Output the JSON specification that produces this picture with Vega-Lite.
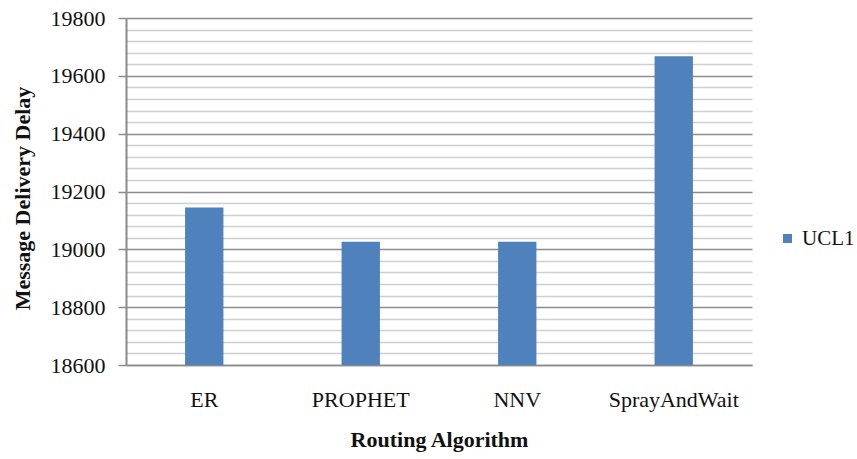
{
  "$schema": "https://vega.github.io/schema/vega-lite/v6.json",
  "width": 626,
  "height": 347,
  "autosize": {"type": "none"},
  "padding": {"left": 126, "top": 18, "right": 105, "bottom": 94},
  "background": "white",
  "config": {
    "view": {"stroke": null},
    "font": "Liberation Serif",
    "axis": {"labelFont": "Liberation Serif", "titleFont": "Liberation Serif", "labelColor": "#111", "titleColor": "#111"}
  },
  "data": {
    "values": [
      {"algo": "ER", "delay": 19145, "series": "UCL1"},
      {"algo": "PROPHET", "delay": 19026, "series": "UCL1"},
      {"algo": "NNV", "delay": 19026, "series": "UCL1"},
      {"algo": "SprayAndWait", "delay": 19668, "series": "UCL1"}
    ]
  },
  "mark": {"type": "bar", "clip": true},
  "encoding": {
    "x": {
      "field": "algo",
      "type": "nominal",
      "sort": null,
      "scale": {"paddingInner": 0.755, "paddingOuter": 0.3775},
      "axis": {
        "title": "Routing Algorithm",
        "labelAngle": 0,
        "ticks": false,
        "labelPadding": 24,
        "labelFontSize": 22,
        "titleFontSize": 22,
        "titleFontWeight": "bold",
        "titlePadding": 19,
        "domainColor": "#8a8a8a",
        "domainWidth": 1.5
      }
    },
    "y": {
      "field": "delay",
      "type": "quantitative",
      "scale": {"domain": [18600, 19800], "nice": false, "zero": false},
      "axis": {
        "title": "Message Delivery Delay",
        "format": "d",
        "values": [18600, 18640, 18680, 18720, 18760, 18800, 18840, 18880, 18920, 18960, 19000, 19040, 19080, 19120, 19160, 19200, 19240, 19280, 19320, 19360, 19400, 19440, 19480, 19520, 19560, 19600, 19640, 19680, 19720, 19760, 19800],
        "labelExpr": "datum.value % 200 === 0 ? datum.label : ''",
        "grid": true,
        "gridColor": {"condition": {"test": "datum.value % 200 === 0", "value": "#8c8c8c"}, "value": "#cfcfcf"},
        "gridWidth": 1.5,
        "tickOpacity": {"condition": {"test": "datum.value % 200 === 0", "value": 1}, "value": 0},
        "tickColor": "#8c8c8c",
        "tickSize": 8,
        "tickWidth": 1.5,
        "labelPadding": 13,
        "labelFontSize": 22,
        "labelFlush": false,
        "titleFontSize": 22,
        "titleFontWeight": "bold",
        "titlePadding": 16,
        "titleY": 180,
        "domainColor": "#8a8a8a",
        "domainWidth": 2
      }
    },
    "color": {
      "field": "series",
      "type": "nominal",
      "scale": {"range": ["#4F81BD"]},
      "legend": {
        "title": null,
        "orient": "none",
        "legendX": 651,
        "legendY": 210,
        "symbolType": "square",
        "symbolSize": 81,
        "symbolStrokeWidth": 0,
        "labelFontSize": 21,
        "labelFont": "Liberation Serif",
        "labelColor": "#111",
        "labelOffset": 4
      }
    }
  }
}
